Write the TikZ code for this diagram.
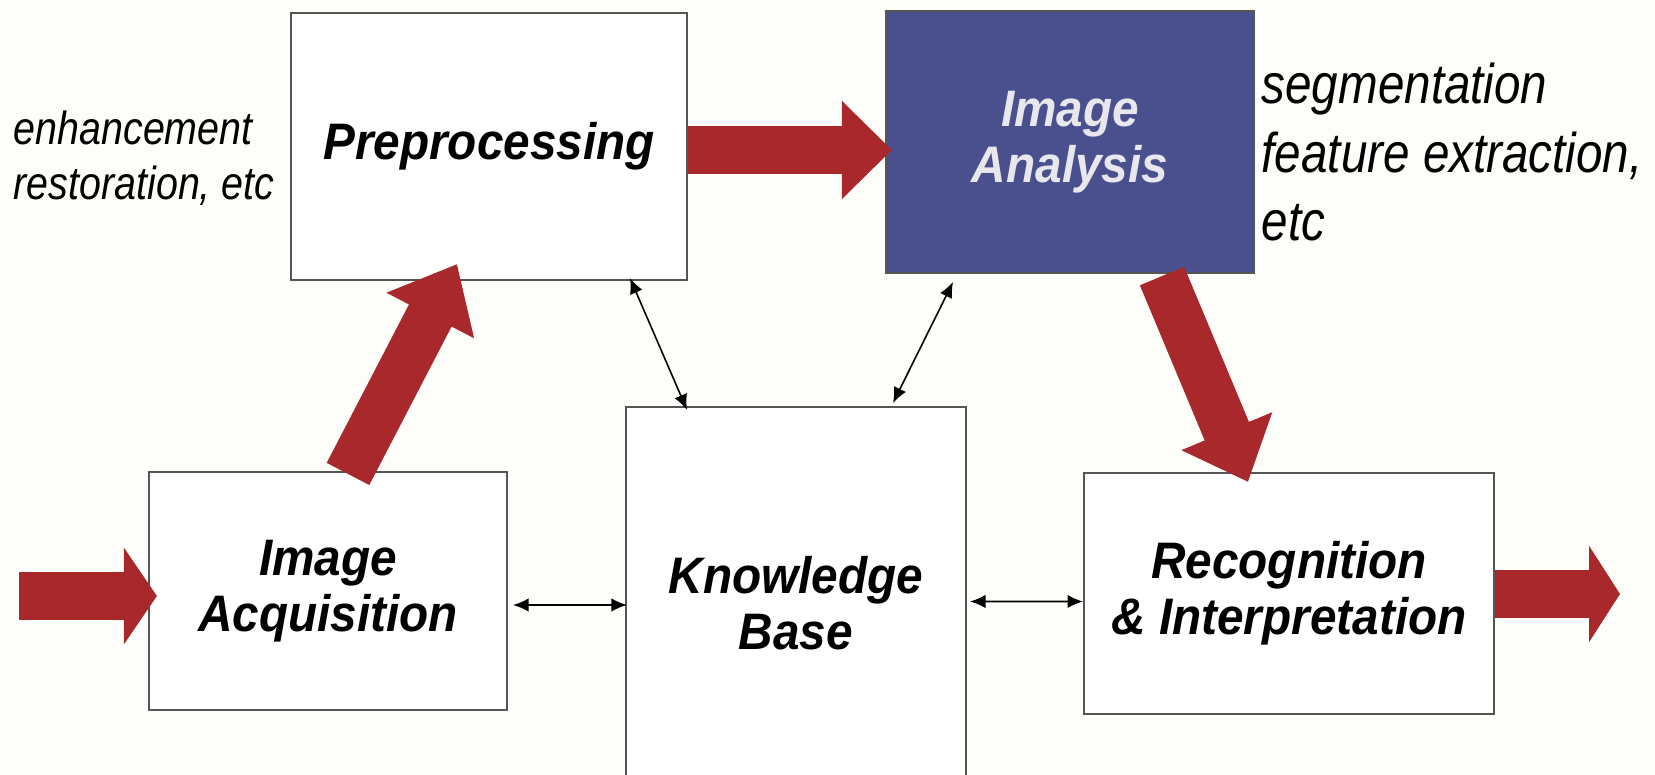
\documentclass[tikz,border=0pt]{standalone}
\usepackage{fontspec}
\setmainfont{Liberation Sans}
\newfontfamily\notefont[FakeStretch=0.85]{Liberation Sans}
\newfontfamily\boxfont[FakeStretch=0.93]{Liberation Sans}
\usepackage{tikz}
\usetikzlibrary{calc,positioning,arrows.meta}

\definecolor{arrowred}{RGB}{168,40,43}
\definecolor{analysisblue}{RGB}{74,79,142}
\definecolor{analysistext}{RGB}{232,232,236}
\definecolor{paper}{RGB}{253,253,249}
\definecolor{boxline}{RGB}{85,85,85}

\tikzset{
    box/.style={draw=boxline, line width=0.6pt, fill=white, inner sep=0pt, align=center,
        font=\boxfont\fontsize{14.6pt}{15.9pt}\selectfont\bfseries\itshape},
    bigarrow/.style={arrowred, line width=0.48cm, -{Triangle[length=#1,width=0.95cm]}},
    bigarrow/.default=0.5cm,
    link/.style={black, line width=0.45pt, {Latex[length=4.4pt,width=3.8pt]}-{Latex[length=4.4pt,width=3.8pt]}},
    note/.style={inner sep=0pt, align=left, anchor=west}
}

\begin{document}
\begin{tikzpicture}
        \fill[paper] (0,0) rectangle (16.55,-7.75);
        \useasboundingbox (0,0) rectangle (16.55,-7.75);

        \node[box, minimum width=3.96cm, minimum height=2.67cm] (pre) at (4.89,-1.465) {Preprocessing};
        \node[box, fill=analysisblue, text=analysistext, minimum width=3.68cm, minimum height=2.62cm] (ana) at (10.70,-1.42) {Image\\Analysis};
        \node[box, minimum width=3.58cm, minimum height=2.38cm] (acq) at (3.28,-5.91) {Image\\Acquisition};
        \node[box, minimum width=3.40cm, minimum height=3.93cm] (kb) at (7.96,-6.035) {Knowledge\\Base};
        \node[box, minimum width=4.10cm, minimum height=2.41cm] (rec) at (12.89,-5.935) {Recognition\\\& Interpretation};

        \node[note, font=\notefont\itshape\fontsize{13.2pt}{15.65pt}\selectfont] (enh) at (0.13,-1.58) {enhancement\\restoration, etc};
        \node[note, font=\notefont\itshape\fontsize{15.93pt}{19.35pt}\selectfont] (seg) at (12.61,-1.52) {segmentation\\feature extraction,\\etc};

        \coordinate (src) at (0.19,-5.96);
        \coordinate (sink) at (16.20,-5.94);

        \draw[bigarrow=0.33cm] (src) -- ($(src -| acq.west)+(0.09,0)$);
        \draw[bigarrow=0.5cm] ($(pre.east)+(0,-0.035)$) -- ($(ana.west)+(0.07,-0.08)$);
        \draw[bigarrow=0.58cm] ($(acq.north)+(0.20,-0.03)$) -- ($(pre.south)+(-0.32,0.17)$);
        \draw[bigarrow=0.55cm] ($(ana.south)+(0.92,-0.02)$) -- ($(rec.north)+(-0.41,-0.10)$);
        \draw[bigarrow=0.31cm] ($(rec.east)+(0,-0.005)$) -- (sink);

        \draw[link] ($(acq.east)+(0.05,-0.14)$) -- ($(kb.west)+(0.02,-0.015)$);
        \draw[link] ($(kb.east)+(0.03,0.02)$) -- ($(rec.west)+(0,-0.08)$);
        \draw[link] ($(pre.south)+(1.41,0.03)$) -- ($(kb.north)+(-1.09,-0.04)$);
        \draw[link] ($(ana.south)+(-1.17,-0.08)$) -- ($(kb.north)+(0.97,0.03)$);
\end{tikzpicture}
\end{document}
